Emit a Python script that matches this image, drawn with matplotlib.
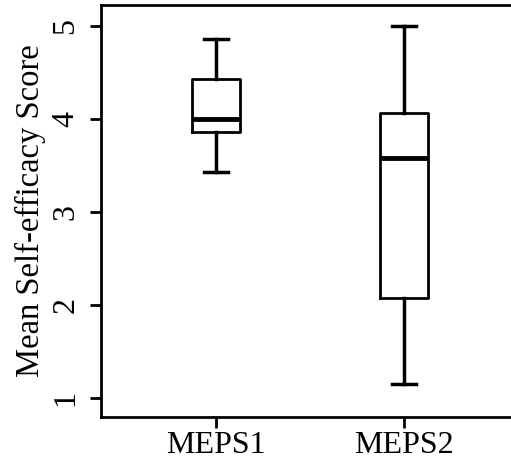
import matplotlib
matplotlib.use('Agg')
import matplotlib.pyplot as plt

plt.rcParams['font.family'] = ['Liberation Serif', 'DejaVu Serif']

# box statistics
groups = ['MEPS1', 'MEPS2']
lower_whisker = [3.43, 1.15]
q1 = [3.86, 2.08]
median = [4.00, 3.58]
q3 = [4.43, 4.07]
upper_whisker = [4.86, 5.00]
yticks = [1, 2, 3, 4, 5]

stats = []
for i in range(len(groups)):
    stats.append({'label': groups[i], 'whislo': lower_whisker[i], 'q1': q1[i],
                  'med': median[i], 'q3': q3[i], 'whishi': upper_whisker[i],
                  'fliers': []})

fig = plt.figure(figsize=(5.11, 4.61), dpi=100)
ax = fig.add_axes([101 / 511, 44 / 461, 1 - 101 / 511, 412 / 461])

ax.bxp(stats, positions=[1, 2], widths=0.255, capwidths=0.128, showfliers=False,
       boxprops=dict(color='black', linewidth=2),
       medianprops=dict(color='black', linewidth=3.5),
       whiskerprops=dict(color='black', linewidth=2.5),
       capprops=dict(color='black', linewidth=2.5))

ax.set_xlim(0.388, 2.569)
ax.set_ylim(0.796, 5.226)
ax.set_yticks(yticks)
ax.set_yticklabels([str(t) for t in yticks], rotation=90, va='center')
ax.set_xticks([1, 2])
ax.set_xticklabels(groups)
ax.tick_params(axis='both', labelsize=23, width=2, length=8, color='black')
ax.tick_params(axis='y', pad=7)
ax.tick_params(axis='x', pad=2)
ax.set_ylabel('Mean Self-efficacy Score', fontsize=23.5, labelpad=4)

for s in ['left', 'bottom', 'top']:
    ax.spines[s].set_linewidth(2)
ax.spines['right'].set_visible(False)

fig.savefig('out.png', dpi=100)
